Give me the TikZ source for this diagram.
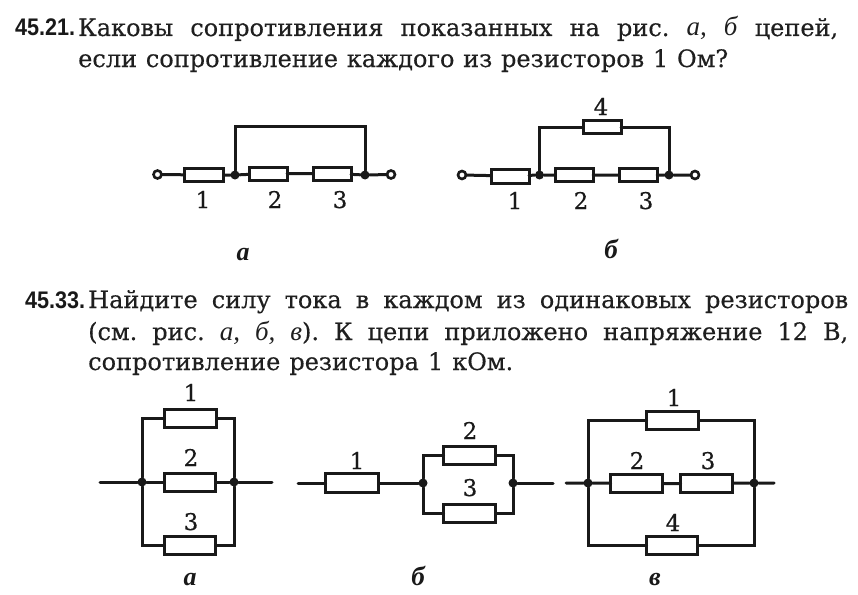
\documentclass[tikz,border=0pt]{standalone}
\usepackage{fontspec}
\setmainfont[FakeBold=0.35]{DejaVu Serif}
\newfontfamily\labfont{Liberation Serif}
\newfontfamily\numfont[FakeStretch=0.9]{Liberation Sans}
\newcommand{\body}{\fontsize{24}{28}\selectfont\frenchspacing}
\newcommand{\itl}[1]{{\labfont\fontsize{27}{28}\selectfont\itshape #1}}
\tikzset{
  ink/.style={draw=black!90,line width=3pt},
  wire/.style={ink,line cap=round,line join=miter},
  res/.style={ink,fill=white,rectangle,inner sep=0pt,outer sep=0pt,minimum height=#1},
  res/.default=14pt,
  junction/.style={circle,fill=black!90,inner sep=0pt,outer sep=0pt,minimum size=9pt},
  terminal/.style={circle,draw=black!90,fill=white,line width=2.6pt,inner sep=0pt,outer sep=0pt,minimum size=8pt},
  num/.style={font=\fontsize{23}{28}\selectfont,text=black!90,inner sep=0pt,anchor=base},
  sub/.style={font=\labfont\fontsize{26}{28}\selectfont\bfseries\itshape,text=black!90,inner sep=0pt,anchor=base},
  subthin/.style={font=\labfont\fontsize{27}{28}\selectfont\bfseries\itshape,text=black!90,inner sep=0pt,anchor=base},
  prob/.style={font=\numfont\fontsize{24}{26}\selectfont\bfseries,text=black!90,inner sep=0pt,anchor=base west},
  txt/.style={font=\body,text=black!88,inner sep=0pt,anchor=base west},
}
\begin{document}
\begin{tikzpicture}[x=1pt,y=-1pt]
\useasboundingbox (0,0) rectangle (858,594);
% --- texts
\node[prob] (p1) at (15,36) {45.21.};
\node[txt] (l1) at (78,36) {\makebox[760pt][s]{Каковы сопротивления показанных на рис. \itl{а,} \itl{б} цепей,}};
\node[txt] (l2) at (78,67) {\makebox[650pt][s]{если сопротивление каждого из резисторов 1 Ом?}};
\node[prob] (p2) at (25,308) {45.33.};
\node[txt] (l3) at (88,308) {\makebox[760pt][s]{Найдите силу тока в каждом из одинаковых резисторов}};
\node[txt] (l4) at (88,340) {\makebox[760pt][s]{(см. рис. \itl{а,} \itl{б,} \itl{в}). К цепи приложено напряжение 12 В,}};
\node[txt] (l5) at (88,370) {\makebox[425pt][s]{сопротивление резистора 1 кОм.}};
% --- 45.21 a
\node[terminal] (at1) at (157.5,174.5) {};
\node[terminal] (at2) at (391,174.5) {};
\node[res=13pt,minimum width=39pt] (ar1) at (204,175) {};
\node[res=13pt,minimum width=38pt] (ar2) at (268,173.5) {};
\node[res=13pt,minimum width=38pt] (ar3) at (332,173.5) {};
\node[junction] (aj1) at (235,175) {};
\node[junction] (aj2) at (365,175) {};
\coordinate (atop1) at (235,126);
\coordinate (atop2) at (365,126);
\draw[wire] (at1) -- (ar1) (ar1) -- (aj1) (aj1) -- (ar2) (ar2) -- (ar3) (ar3) -- (aj2) (aj2) -- (at2);
\draw[wire] (aj1) -- (atop1) -- (atop2) -- (aj2);
\node[num] (an1) at (203,208) {1};
\node[num] (an2) at (275,208) {2};
\node[num] (an3) at (340,208) {3};
\node[sub] (as) at (243,260) {а};
% --- 45.21 b
\node[terminal] (bt1) at (462,175) {};
\node[terminal] (bt2) at (695,175) {};
\node[res=14pt,minimum width=38pt] (br1) at (510,176) {};
\node[res=12.5pt,minimum width=38pt] (br2) at (574,175) {};
\node[res=12.5pt,minimum width=38pt] (br3) at (638,175) {};
\node[res=13pt,minimum width=38pt] (br4) at (602,127) {};
\node[junction] (bj1) at (539.5,175) {};
\node[junction] (bj2) at (669,175) {};
\draw[wire] (bt1) -- (br1) (br1) -- (bj1) (bj1) -- (br2) (br2) -- (br3) (br3) -- (bj2) (bj2) -- (bt2);
\draw[wire] (bj1) |- (br4);
\draw[wire] (bj2) |- (br4);
\node[num] (bn4) at (601,115) {4};
\node[num] (bn1) at (515,209) {1};
\node[num] (bn2) at (581,209) {2};
\node[num] (bn3) at (646,209) {3};
\node[subthin] (bs) at (611,258) {б};
% --- 45.33 a
\coordinate (ca0) at (100,482);
\coordinate (ca9) at (272,482);
\node[res=18pt,minimum width=52pt] (car1) at (190.5,418) {};
\node[res=18pt,minimum width=51pt] (car2) at (190,482) {};
\node[res=18pt,minimum width=51pt] (car3) at (190,545) {};
\node[junction] (caj1) at (142,482) {};
\node[junction] (caj2) at (234,482) {};
\draw[wire] (ca0) -- (caj1) (caj1) -- (car2) (car2) -- (caj2) (caj2) -- (ca9);
\draw[wire] (caj1) |- (car1);
\draw[wire] (caj1) |- (car3);
\draw[wire] (caj2) |- (car1);
\draw[wire] (caj2) |- (car3);
\node[num] (can1) at (191,401) {1};
\node[num] (can2) at (191,466) {2};
\node[num] (can3) at (191,530) {3};
\node[sub] (cas) at (190,585) {а};
% --- 45.33 b
\coordinate (cb0) at (298,483);
\coordinate (cb9) at (553,483);
\node[res=19pt,minimum width=53pt] (cbr1) at (352,483) {};
\node[res=18pt,minimum width=52pt] (cbr2) at (469.5,455) {};
\node[res=18pt,minimum width=52pt] (cbr3) at (469.5,513) {};
\node[junction] (cbj1) at (423,483) {};
\node[junction] (cbj2) at (513,483) {};
\draw[wire] (cb0) -- (cbr1) (cbr1) -- (cbj1) (cbj2) -- (cb9);
\draw[wire] (cbj1) |- (cbr2);
\draw[wire] (cbj1) |- (cbr3);
\draw[wire] (cbj2) |- (cbr2);
\draw[wire] (cbj2) |- (cbr3);
\node[num] (cbn1) at (357,469) {1};
\node[num] (cbn2) at (470,439) {2};
\node[num] (cbn3) at (470,496) {3};
\node[subthin] (cbs) at (418,585) {б};
% --- 45.33 v
\coordinate (cc0) at (566,483);
\coordinate (cc9) at (774,483);
\node[res=18pt,minimum width=52pt] (ccr1) at (672.5,420) {};
\node[res=18pt,minimum width=52pt] (ccr2) at (636.5,483.5) {};
\node[res=18pt,minimum width=52pt] (ccr3) at (706.5,483.5) {};
\node[res=18pt,minimum width=51pt] (ccr4) at (672,545) {};
\node[junction] (ccj1) at (588,483) {};
\node[junction] (ccj2) at (754,483) {};
\draw[wire] (cc0) -- (ccj1) (ccj1) -- (ccr2) (ccr2) -- (ccr3) (ccr3) -- (ccj2) (ccj2) -- (cc9);
\draw[wire] (ccj1) |- (ccr1);
\draw[wire] (ccj1) |- (ccr4);
\draw[wire] (ccj2) |- (ccr1);
\draw[wire] (ccj2) |- (ccr4);
\node[num] (ccn1) at (674,406) {1};
\node[num] (ccn2) at (637,469) {2};
\node[num] (ccn3) at (708,469) {3};
\node[num] (ccn4) at (673,531) {4};
\node[sub] (ccs) at (655,585) {в};
\end{tikzpicture}
\end{document}
